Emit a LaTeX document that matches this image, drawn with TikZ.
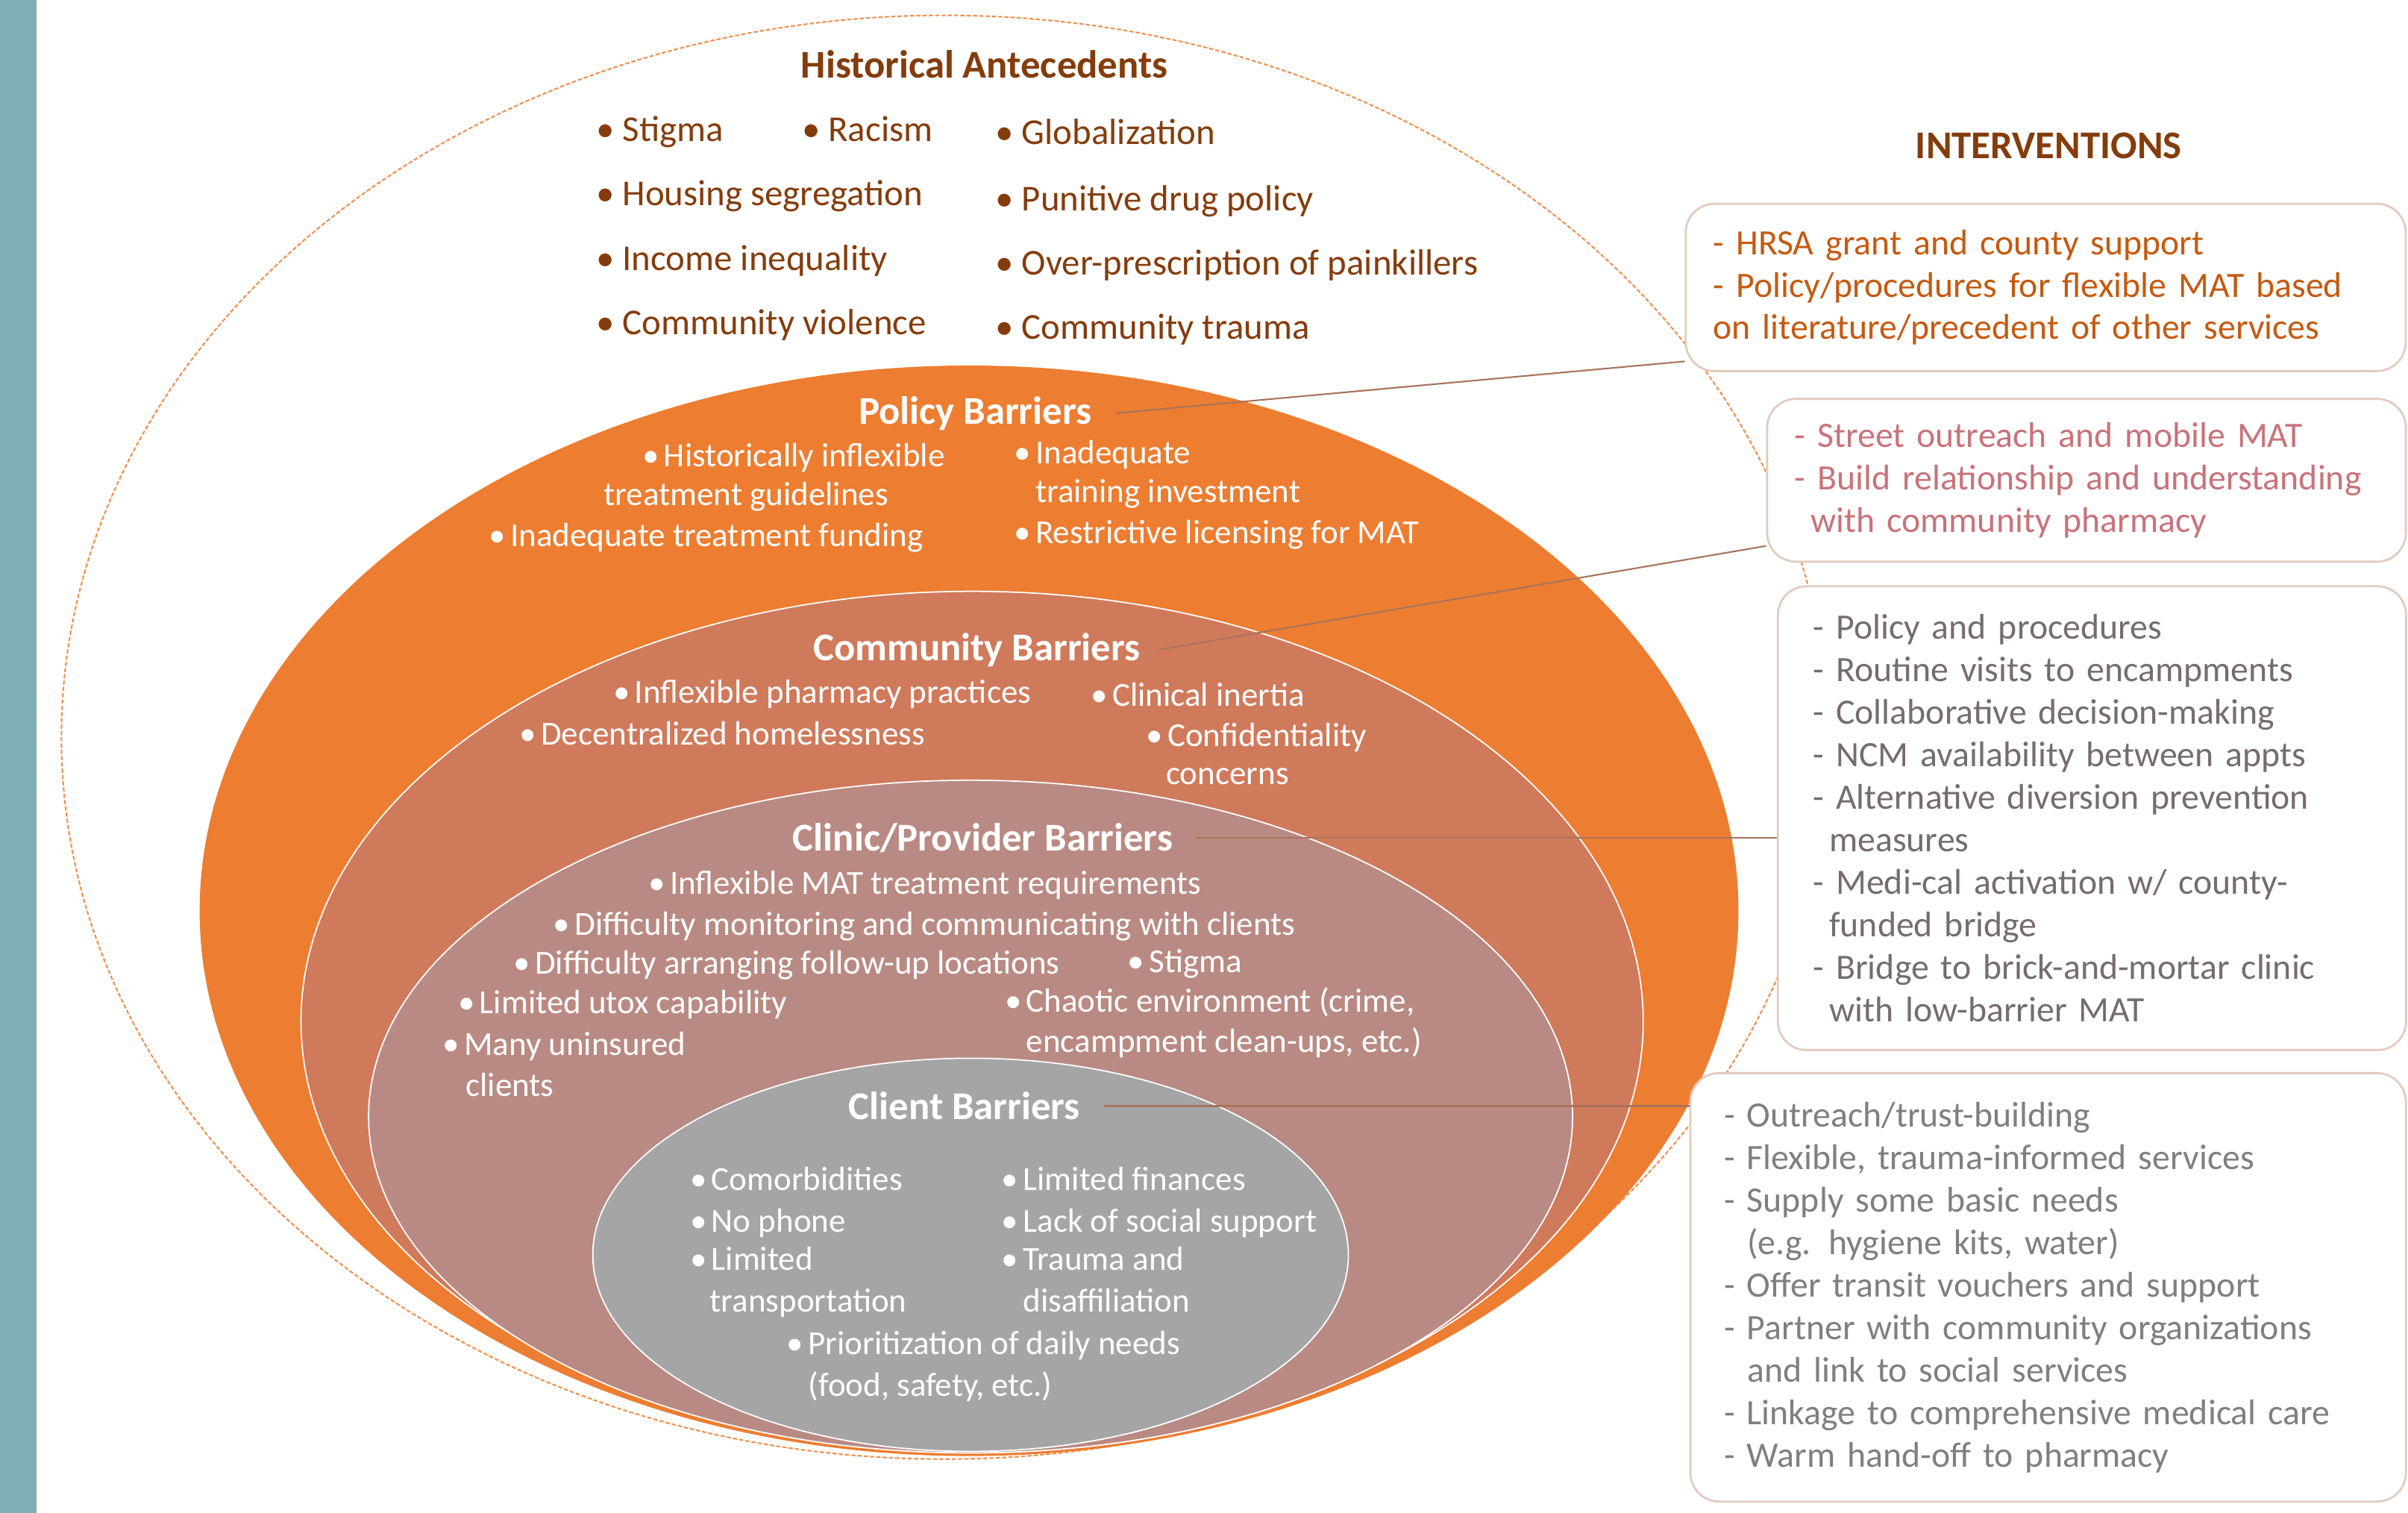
\documentclass[tikz,border=0pt]{standalone}
\usepackage{fontspec}
\setmainfont{Carlito}
\usetikzlibrary{positioning}

\definecolor{tealbar}{HTML}{7FAEB5}
\definecolor{policyor}{HTML}{ED7D31}
\definecolor{commun}{HTML}{D07A5C}
\definecolor{clinicc}{HTML}{B98A83}
\definecolor{clientg}{HTML}{A5A5A5}
\definecolor{histbrown}{HTML}{843C0C}
\definecolor{ivorange}{HTML}{C55A11}
\definecolor{ivrose}{HTML}{C8737A}
\definecolor{ivmauve}{HTML}{766B73}
\definecolor{ivgray}{HTML}{7F7F7F}
\definecolor{boxedge}{HTML}{E3CBBE}
\definecolor{linkbrown}{HTML}{A8735A}

\newcommand{\bul}[1][0.64em]{\makebox[#1][l]{\textbullet}}

\begin{document}
\begin{tikzpicture}[x=0.5857pt, y=-0.5857pt,
    every node/.style={inner sep=0pt},
    ttl/.style={anchor=mid, yshift=-2.3pt, font=\bfseries\fontsize{15}{18}\selectfont},
    hitem/.style={anchor=mid west, yshift=-2.3pt, text=histbrown,
      font=\fontsize{13.9}{16}\selectfont},
    witem/.style={anchor=mid west, yshift=-2.3pt, text=white,
      font=\fontsize{12.8}{16}\selectfont},
    ring/.style={draw=white, line width=0.5pt},
    outerdash/.style={draw=policyor!85, line width=0.6pt, dash pattern=on 1.6pt off 0.8pt},
    ivbox/.style={draw=boxedge, line width=0.8pt, fill=white, rounded corners=11pt,
      anchor=north west, align=left, inner ysep=0pt,
      font=\fontsize{13.6}{16.2}\selectfont},
    link/.style={draw=linkbrown, line width=0.6pt}]

    \useasboundingbox (0,0) rectangle (1568,985);
    \fill[tealbar] (0,0) rectangle (24,985);

    % nested barrier levels
    \draw[outerdash] (615,480) ellipse [x radius=575, y radius=470];
    \fill[policyor] (631,593) ellipse [x radius=501, y radius=355];
    \fill[commun, ring] (633,665) ellipse [x radius=437, y radius=280];
    \fill[clinicc, ring] (632,727) ellipse [x radius=392, y radius=219];
    \fill[clientg, ring] (632,817) ellipse [x radius=246, y radius=128];

    % titles
    \node[ttl, text=histbrown] (hist) at (641,43) {Historical Antecedents};
    \node[ttl, text=histbrown] (ivtitle) at (1334,95) {INTERVENTIONS};
    \node[ttl, text=white] (policy) at (635,268) {Policy Barriers};
    \node[ttl, text=white] (community) at (636,422) {Community Barriers};
    \node[ttl, text=white] (clinic) at (640,546) {Clinic/Provider Barriers};
    \node[ttl, text=white] (client) at (628,721) {Client Barriers};

    % historical antecedents
    \foreach \x/\y/\t [count=\i] in {388/84/Stigma, 522/84/Racism,
        648/86/Globalization, 388/126/Housing segregation,
        648/129/Punitive drug policy, 388/168/Income inequality,
        648/171/Over-prescription of painkillers,
        388/210/Community violence, 648/213/Community trauma}
      \node[hitem] (ha\i) at (\x,\y) {\bul[0.72em]\t};

    % policy barriers
    \foreach \x/\y/\t [count=\i] in {418/296/\bul Historically inflexible,
        393/321/treatment guidelines, 318/348/\bul Inadequate treatment funding,
        660/294/\bul Inadequate, 674/319/training investment,
        660/346/\bul Restrictive licensing for MAT}
      \node[witem] (pb\i) at (\x,\y) {\t};

    % community barriers
    \foreach \x/\y/\t [count=\i] in {399/450/\bul Inflexible pharmacy practices,
        710/452/\bul Clinical inertia, 338/477/\bul Decentralized homelessness,
        746/478/\bul Confidentiality, 759/503/concerns}
      \node[witem] (cb\i) at (\x,\y) {\t};

    % clinic/provider barriers
    \foreach \x/\y/\t [count=\i] in {422/574/\bul Inflexible MAT treatment requirements,
        360/601/\bul Difficulty monitoring and communicating with clients,
        334/626/\bul Difficulty arranging follow-up locations, 734/625/\bul Stigma,
        298/652/\bul Limited utox capability,
        654/651/{\bul Chaotic environment (crime,},
        668/677/{encampment clean-ups, etc.)},
        288/679/\bul Many uninsured, 303/706/clients}
      \node[witem] (pr\i) at (\x,\y) {\t};

    % client barriers
    \foreach \x/\y/\t [count=\i] in {449/767/\bul Comorbidities,
        652/767/\bul Limited finances, 449/794/\bul No phone,
        652/794/\bul Lack of social support, 449/819/\bul Limited,
        462/846/transportation, 652/819/\bul Trauma and, 666/846/disaffiliation,
        512/874/\bul Prioritization of daily needs, 526/901/{(food, safety, etc.)}}
      \node[witem] (cl\i) at (\x,\y) {\t};

    % interventions
    \node[ivbox, text=ivorange, inner xsep=10.5pt, text width=253.6pt,
      minimum height=63.8pt] (ivpolicy) at (1097,132)
      {- HRSA grant and county support\\
       - Policy/procedures for flexible MAT based\\
       on literature/precedent of other services};
    \node[ivbox, text=ivrose, inner xsep=10.5pt, text width=222.6pt,
      minimum height=62.1pt] (ivcommunity) at (1150,259)
      {- Street outreach and mobile MAT\\
       - Build relationship and understanding\\
       \hspace*{0.45em}with community pharmacy};
    \node[ivbox, text=ivmauve, inner xsep=13.5pt, text width=212.6pt,
      minimum height=176.9pt] (ivclinic) at (1157,381)
      {- Policy and procedures\\
       - Routine visits to encampments\\
       - Collaborative decision-making\\
       - NCM availability between appts\\
       - Alternative diversion prevention\\
       \hspace*{0.45em}measures\\
       - Medi-cal activation w/ county-\\
       \hspace*{0.45em}funded bridge\\
       - Bridge to brick-and-mortar clinic\\
       \hspace*{0.45em}with low-barrier MAT};
    \node[ivbox, text=ivgray, inner xsep=12.9pt, text width=247.1pt,
      minimum height=163.4pt] (ivclient) at (1100,698)
      {- Outreach/trust-building\\
       - Flexible, trauma-informed services\\
       - Supply some basic needs\\
       \hspace*{0.65em}(e.g. hygiene kits, water)\\
       - Offer transit vouchers and support\\
       - Partner with community organizations\\
       \hspace*{0.65em}and link to social services\\
       - Linkage to comprehensive medical care\\
       - Warm hand-off to pharmacy};

    % links from each level to its interventions
    \draw[link] ([xshift=9pt]policy.east) -- ([yshift=4.1pt]ivpolicy.south west);
    \draw[link] ([xshift=7pt]community.east) -- ([yshift=6.4pt]ivcommunity.south west);
    \draw[link] ([xshift=9pt]clinic.east) -- (clinic.east -| ivclinic.west);
    \draw[link] ([xshift=9pt]client.east) -- (client.east -| ivclient.west);
\end{tikzpicture}
\end{document}
